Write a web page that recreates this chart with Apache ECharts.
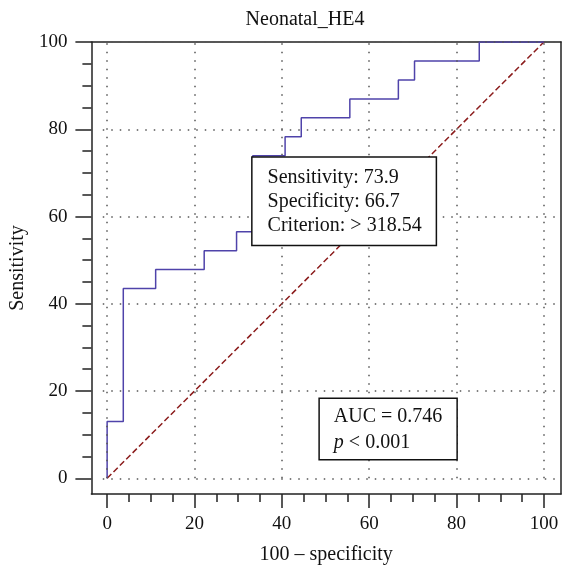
<!DOCTYPE html>
<html><head><meta charset="utf-8">
<script src="https://cdn.jsdelivr.net/npm/echarts@6/dist/echarts.min.js"></script>
<style>html,body{margin:0;padding:0;background:#fff}#c{width:562px;height:570px}</style>
</head><body><div id="c"></div>
<script>
// ROC operating points: 100 - specificity (x) and sensitivity (y)
const fpr  = [0, 0, 3.70, 11.11, 22.22, 29.63, 33.33, 40.74, 44.44, 55.56, 66.67, 70.37, 85.19, 100];
const sens = [0, 13.04, 43.48, 47.83, 52.17, 56.52, 73.91, 78.26, 82.61, 86.96, 91.30, 95.65, 100, 100];
const diagX = [0, 100];
const diagY = [0, 100];
const majorTicks = [0, 20, 40, 60, 80, 100];
const minorTicks = [0, 5, 10, 15, 20, 25, 30, 35, 40, 45, 50, 55, 60, 65, 70, 75, 80, 85, 90, 95, 100];
const titleText = 'Neonatal_HE4';
const xName = '100 \u2013 specificity';
const yName = 'Sensitivity';
const critSens = 73.9, critSpec = 66.7, critValue = '> 318.54';
const aucValue = '0.746', pValue = '< 0.001';

const FONT = '"Liberation Serif", "DejaVu Serif", serif';
const xMin = -3.6, xMax = 103.9, yMin = -3.6, yMax = 100;
const axisColor = '#222';

const chart = echarts.init(document.getElementById('c'), null, {renderer: 'canvas'});

function baseAxis(extra) {
  return Object.assign({
    type: 'value',
    splitLine: {show: false},
    axisLine: {show: false, onZero: false},
    axisTick: {show: false},
    axisLabel: {show: false}
  }, extra);
}
const lineOn = {show: true, onZero: false, lineStyle: {color: axisColor, width: 1.5}};

const gridLines = [];
majorTicks.forEach(v => {
  gridLines.push([{coord: [v, 0]}, {coord: [v, yMax]}]);
  gridLines.push([{coord: [-1, v]}, {coord: [xMax, v]}]);
});

chart.setOption({
  animation: false,
  backgroundColor: '#fff',
  title: {
    text: titleText, left: 300, top: 5, textAlign: 'center',
    textStyle: {fontFamily: FONT, fontSize: 20, fontWeight: 'normal', color: '#111'}
  },
  grid: {left: 87, right: 1, top: 42, bottom: 72.5, containLabel: false},
  xAxis: [
    baseAxis({
      min: xMin, max: xMax, position: 'bottom',
      name: xName, nameLocation: 'middle', nameGap: 51,
      nameTextStyle: {fontFamily: FONT, fontSize: 20, color: '#111'},
      axisLine: lineOn,
      axisTick: {show: true, customValues: majorTicks, length: 14, lineStyle: {color: axisColor, width: 1.5}},
      axisLabel: {show: true, customValues: majorTicks, margin: 21, fontFamily: FONT, fontSize: 19, color: '#111'}
    }),
    baseAxis({
      min: xMin, max: xMax, position: 'bottom',
      axisTick: {show: true, customValues: minorTicks, length: 8, lineStyle: {color: axisColor, width: 1.5}}
    }),
    baseAxis({
      min: xMin, max: xMax, position: 'top',
      axisLine: lineOn
    })
  ],
  yAxis: [
    baseAxis({
      min: yMin, max: yMax, position: 'left',
      name: yName, nameLocation: 'middle', nameGap: 59,
      nameTextStyle: {fontFamily: FONT, fontSize: 20, color: '#111'},
      axisLine: lineOn,
      axisTick: {show: true, customValues: majorTicks, length: 16, lineStyle: {color: axisColor, width: 1.5}},
      axisLabel: {show: true, customValues: majorTicks, margin: 24, fontFamily: FONT, fontSize: 19, color: '#111'}
    }),
    baseAxis({
      min: yMin, max: yMax, position: 'left',
      axisTick: {show: true, customValues: minorTicks, length: 9, lineStyle: {color: axisColor, width: 1.5}}
    }),
    baseAxis({
      min: yMin, max: yMax, position: 'right',
      axisLine: lineOn
    })
  ],
  series: [
    {
      type: 'line', xAxisIndex: 0, yAxisIndex: 0, data: [], silent: true,
      markLine: {
        silent: true, symbol: ['none', 'none'], animation: false,
        label: {show: false},
        lineStyle: {type: [1.5, 7], color: '#555', width: 1.5},
        emphasis: {disabled: true},
        data: gridLines
      }
    },
    {
      type: 'line', xAxisIndex: 0, yAxisIndex: 0,
      data: diagX.map((x, i) => [x, diagY[i]]),
      showSymbol: false, symbol: 'none',
      lineStyle: {color: '#8b1c1c', width: 1.5, type: [6, 3]}
    },
    {
      type: 'line', xAxisIndex: 0, yAxisIndex: 0, step: 'end',
      data: fpr.map((x, i) => [x, sens[i]]),
      showSymbol: false, symbol: 'none',
      lineStyle: {color: '#4f43aa', width: 1.5}
    }
  ]
});

const pCrit = chart.convertToPixel({seriesIndex: 2}, [100 - critSpec, critSens]);
const pAuc = chart.convertToPixel({seriesIndex: 2}, [48.7, 18.2]);

chart.setOption({
  graphic: [
    {
      type: 'text', x: pCrit[0], y: pCrit[1] + 2, z: 100,
      style: {
        text: 'Sensitivity: ' + critSens + '\nSpecificity: ' + critSpec + '\nCriterion: ' + critValue,
        fontFamily: FONT, fontSize: 20, fill: '#111', lineHeight: 24,
        backgroundColor: '#fff', borderColor: '#111', borderWidth: 1.5,
        padding: [8, 14, 7, 15]
      }
    },
    {
      type: 'text', x: pAuc[0], y: pAuc[1], z: 100,
      style: {
        text: 'AUC = ' + aucValue + '\n{i|p} ' + pValue,
        fontFamily: FONT, fontSize: 20, fill: '#111', lineHeight: 26,
        backgroundColor: '#fff', borderColor: '#111', borderWidth: 1.5,
        padding: [5, 14, 3, 14],
        rich: {i: {fontStyle: 'italic', fontFamily: FONT, fontSize: 20, fill: '#111', lineHeight: 26}}
      }
    }
  ]
});
</script>
</body></html>
